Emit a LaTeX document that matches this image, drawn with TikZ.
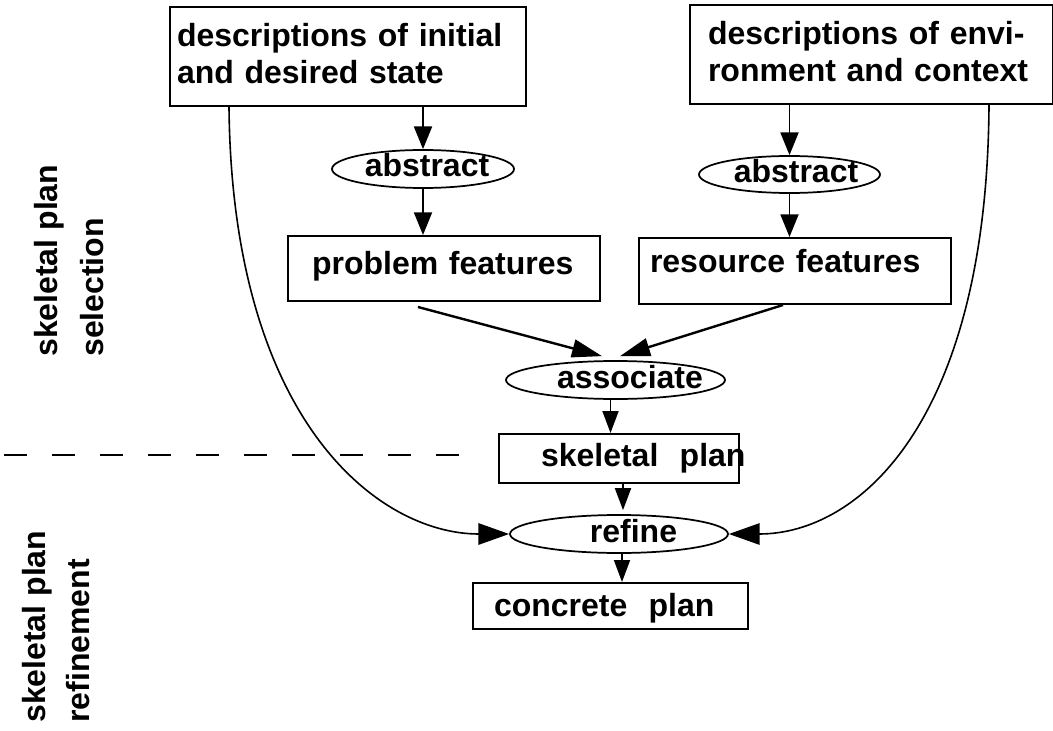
\documentclass[tikz,border=0pt]{standalone}
\usepackage{fontspec}
\setmainfont{Liberation Sans}
\usetikzlibrary{arrows.meta,shapes.geometric,calc}
\begin{document}
\begin{tikzpicture}[x=0.75pt,y=-0.75pt,
  txt/.style={font=\fontsize{24}{27.75}\selectfont\bfseries},
  box/.style={draw, line width=1.5pt, rectangle, inner ysep=0pt, align=left, anchor=north west, txt},
  oval/.style={draw, line width=1.3pt, ellipse, inner sep=0pt, text height=12pt, text depth=0pt, txt},
  arr/.style={line width=1.4pt, -{Triangle[length=17pt,width=13.5pt]}},
  sarr/.style={line width=1.4pt, -{Triangle[length=16.5pt,width=12pt]}},
  barr/.style={line width=1.8pt, -{Triangle[length=22.5pt,width=13.5pt]}},
  carr/.style={line width=1.2pt, -{Triangle[length=23pt,width=16pt]}},
  side/.style={rotate=90, anchor=south west, inner sep=0pt, align=left}
]
\useasboundingbox (0,0) rectangle (1053,731);

% boxes
\node[box, inner xsep=5.25pt, text width=256.5pt, minimum height=74.25pt] (init) at (169,6)
  {descriptions of initial\\and desired state\rule[-5.25pt]{0pt}{0pt}};
\node[box, inner xsep=13.5pt, text width=245.25pt, minimum height=74.25pt] (env) at (689,4)
  {descriptions of envi-\\ronment and context\rule[-5.25pt]{0pt}{0pt}};
\node[box, inner xsep=18pt, text width=198pt, text height=28.5pt, text depth=20.25pt] (prob) at (287,235)
  {\makebox[0pt][l]{problem features}};
\node[box, inner xsep=8.25pt, text width=217.5pt, text height=25.5pt, text depth=24pt] (res) at (638,237)
  {\makebox[0pt][l]{resource features}};
\node[box, inner xsep=31.5pt, text width=117pt, text height=24pt, text depth=12.75pt] (skel) at (498,433)
  {\makebox[0pt][l]{skeletal\ \ plan}};
\node[box, inner xsep=15.75pt, text width=174.75pt, text height=24.75pt, text depth=9.75pt] (conc) at (472,582)
  {\makebox[0pt][l]{concrete\ \ plan}};

% ellipses
\node[oval, minimum width=136.5pt, minimum height=28.5pt] (abs1) at (423,169)
  {\makebox[0pt]{\hspace*{6pt}abstract}};
\node[oval, minimum width=135.75pt, minimum height=27.75pt] (abs2) at (789.5,174.5)
  {\makebox[0pt]{\hspace*{9.75pt}abstract}};
\node[oval, minimum width=164.25pt, minimum height=28.5pt] (assoc) at (615.5,380)
  {\makebox[0pt]{\hspace*{21.75pt}associate}};
\node[oval, minimum width=163.5pt, minimum height=28.5pt] (refine) at (619,534)
  {\makebox[0pt]{\hspace*{21.75pt}refine}};

% side labels
\node[side, font=\fontsize{24}{34.5}\selectfont\bfseries] (lsel) at (104,357) {skeletal plan\\selection};
\node[side, font=\fontsize{24}{33}\selectfont\bfseries] (lref) at (90.5,723) {skeletal plan\\refinement};

% dashed separator
\draw[line width=1.5pt, dash pattern=on 17.25pt off 18.75pt] (4,455) -- (459,455);

% helper coordinates
\coordinate (a1) at ($(assoc.south)+(-5,0)$);
\coordinate (s1) at ($(skel.south)+(4,0)$);
\coordinate (r1) at ($(refine.south)+(3,0)$);

% connectors
\draw[arr] (abs1.north |- init.south) -- (abs1.north);
\draw[arr] (abs1.south) -- (abs1.south |- prob.north);
\draw[arr] (abs2.north |- env.south) -- (abs2.north);
\draw[arr] (abs2.south) -- (abs2.south |- res.north);
\draw[barr] ($(prob.south)+(-26,5)$) -- ($(assoc.north)+(-13.5,-4)$);
\draw[barr] ($(res.south)+(-12,0)$) -- ($(assoc.north)+(4.5,-4)$);
\draw[sarr] (a1) -- (a1 |- skel.north);
\draw[sarr] (s1) -- ($(s1 |- refine.north)+(0,-4)$);
\draw[sarr] (r1) -- (r1 |- conc.north);
\draw[carr] ($(init.south west)+(60,0)$) .. controls +(3,315) and +(-130,0) .. (refine.west);
\draw[carr] ($(env.south east)+(-65,0)$) .. controls +(-2,317) and +(130,0) .. (refine.east);
\end{tikzpicture}
\end{document}
